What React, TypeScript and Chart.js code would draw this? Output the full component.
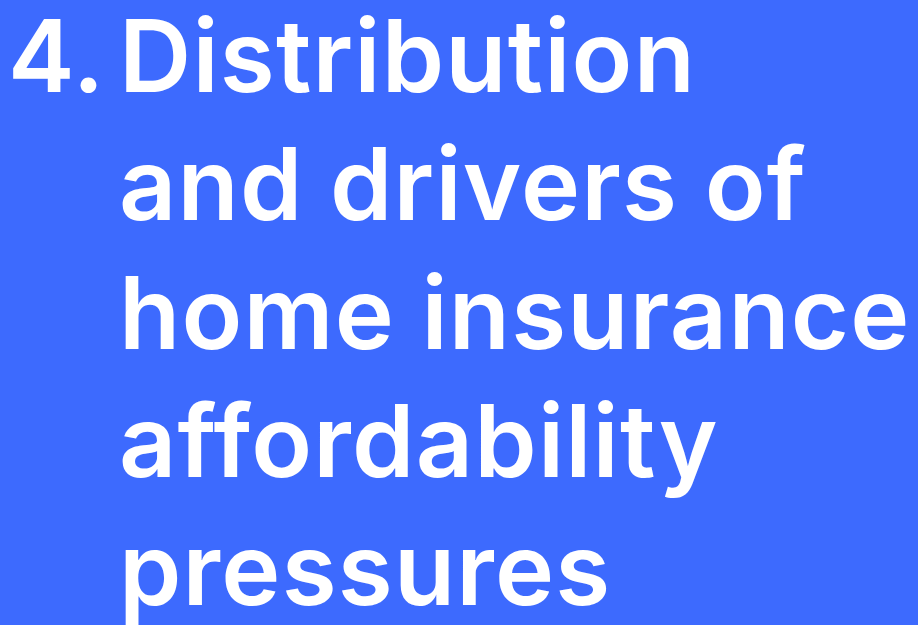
import React, { useEffect, useRef } from "react";
import { Chart, registerables } from "chart.js";

Chart.register(...registerables);

const sectionNumber = "4.";
const titleLines = [
  "Distribution",
  "and drivers of",
  "home insurance",
  "affordability",
  "pressures",
];
const backgroundColor = "#3d6afe";
const textColor = "#ffffff";

const titlePlugin = {
  id: "slideTitle",
  beforeDraw(chart: any) {
    const { ctx, width, height } = chart;
    ctx.save();
    ctx.fillStyle = backgroundColor;
    ctx.fillRect(0, 0, width, height);
    ctx.fillStyle = textColor;
    ctx.font = "600 100px Inter";
    try { (ctx as any).letterSpacing = "1.2px"; } catch (e) {}
    ctx.textBaseline = "alphabetic";
    ctx.textAlign = "left";
    const lineH = 128.3;
    const base0 = 92;
    const mNum = ctx.measureText(sectionNumber);
    ctx.fillText(sectionNumber, 13 + mNum.actualBoundingBoxLeft, base0);
    const mD = ctx.measureText(titleLines[0]);
    const x0 = 126 + mD.actualBoundingBoxLeft;
    titleLines.forEach((line, i) => {
      ctx.fillText(line, x0, base0 + i * lineH);
    });
    ctx.restore();
  },
};

export default function App() {
  const ref = useRef<HTMLCanvasElement | null>(null);
  useEffect(() => {
    if (!ref.current) return;
    const chart = new Chart(ref.current, {
      type: "bar",
      data: { labels: titleLines, datasets: [{ data: [], label: sectionNumber }] },
      options: {
        animation: false,
        responsive: false,
        maintainAspectRatio: false,
        events: [],
        plugins: { legend: { display: false }, tooltip: { enabled: false }, title: { display: false } },
        scales: { x: { display: false }, y: { display: false } },
      },
      plugins: [titlePlugin],
    });
    return () => chart.destroy();
  }, []);
  return (
    <div style={{ position: "fixed", left: 0, top: 0, width: 918, height: 625, background: backgroundColor }}>
      <canvas ref={ref} width={918} height={625} style={{ width: 918, height: 625, display: "block" }} />
    </div>
  );
}
